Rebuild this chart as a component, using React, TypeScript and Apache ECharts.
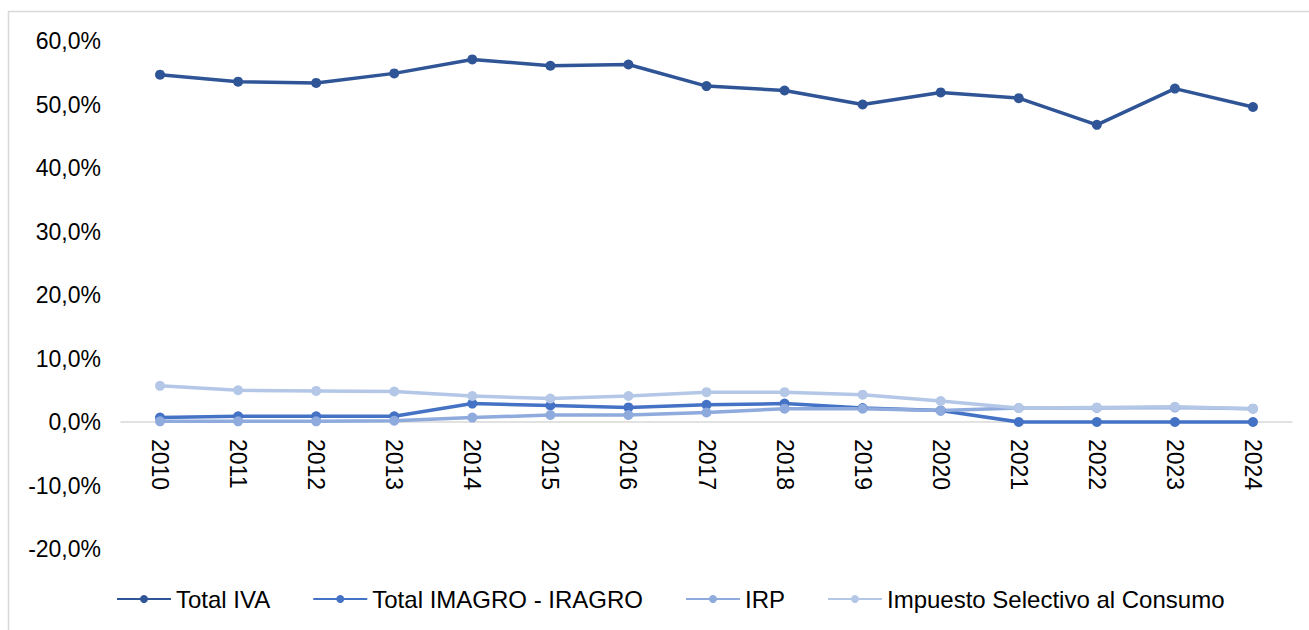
import React, { useEffect, useRef } from "react";
import * as echarts from "echarts";

const years = ["2010","2011","2012","2013","2014","2015","2016","2017","2018","2019","2020","2021","2022","2023","2024"];
const totalIVA = [54.7, 53.6, 53.4, 54.9, 57.1, 56.1, 56.3, 52.9, 52.2, 50.0, 51.9, 51.0, 46.8, 52.5, 49.6];
const totalIMAGRO = [0.7, 0.9, 0.9, 0.9, 2.9, 2.6, 2.3, 2.7, 2.9, 2.2, 1.8, 0.0, 0.0, 0.0, 0.0];
const irp = [0.1, 0.1, 0.1, 0.2, 0.7, 1.1, 1.1, 1.5, 2.1, 2.1, 1.8, 2.2, 2.2, 2.3, 2.1];
const isc = [5.7, 5.0, 4.9, 4.8, 4.1, 3.7, 4.1, 4.7, 4.7, 4.3, 3.3, 2.2, 2.3, 2.4, 2.1];

const seriesNames = ["Total IVA", "Total IMAGRO - IRAGRO", "IRP", "Impuesto Selectivo al Consumo"];
const seriesColors = ["#2F5597", "#4472C4", "#8FAADC", "#B4C7E7"];
const seriesData = [totalIVA, totalIMAGRO, irp, isc];

const yMin = -20;
const yMax = 60;
const gridTop = 41;
const gridHeight = 508;

const fmt = (v: number) => v.toFixed(1).replace(".", ",") + "%";

export default function App() {
  const ref = useRef<HTMLDivElement>(null);
  useEffect(() => {
    if (!ref.current) return;
    const chart = echarts.init(ref.current, undefined, { renderer: "svg" });
    // move the category axis up to the zero line
    const zeroOffset = -((0 - yMin) / (yMax - yMin)) * gridHeight;
    chart.setOption({
      animation: false,
      textStyle: { fontFamily: "Liberation Sans, Arial, sans-serif" },
      graphic: [
        {
          type: "rect",
          shape: { x: 8.5, y: 11.5, width: 1400, height: 700 },
          style: { fill: "none", stroke: "#D9D9D9", lineWidth: 1.5 },
          silent: true,
        },
      ],
      grid: { left: 121, top: gridTop, width: 1171, height: gridHeight, containLabel: false },
      legend: {
        bottom: 14,
        left: 111,
        itemWidth: 54,
        itemHeight: 10,
        itemGap: 42,
        data: seriesNames,
        textStyle: { fontSize: 24, color: "#000" },
      },
      xAxis: {
        type: "category",
        data: years,
        boundaryGap: true,
        position: "bottom",
        offset: zeroOffset,
        axisLine: { onZero: false, lineStyle: { color: "#D9D9D9", width: 1.5 } },
        axisTick: { show: false },
        axisLabel: { rotate: -90, fontSize: 23, color: "#000", margin: 17 },
        splitLine: { show: false },
      },
      yAxis: {
        type: "value",
        min: yMin,
        max: yMax,
        interval: 10,
        axisLine: { show: false },
        axisTick: { show: false },
        splitLine: { show: false },
        axisLabel: { fontSize: 23, color: "#000", margin: 20, formatter: (v: number) => fmt(v) },
      },
      series: seriesData.map((d, i) => ({
        name: seriesNames[i],
        type: "line",
        data: d,
        color: seriesColors[i],
        symbol: "circle",
        symbolSize: 10,
        lineStyle: { width: 3.5, color: seriesColors[i] },
        itemStyle: { color: seriesColors[i] },
      })),
    });
    return () => chart.dispose();
  }, []);
  return (
    <div
      ref={ref}
      style={{ position: "absolute", left: 0, top: 0, width: 1309, height: 630, background: "#fff" }}
    />
  );
}
